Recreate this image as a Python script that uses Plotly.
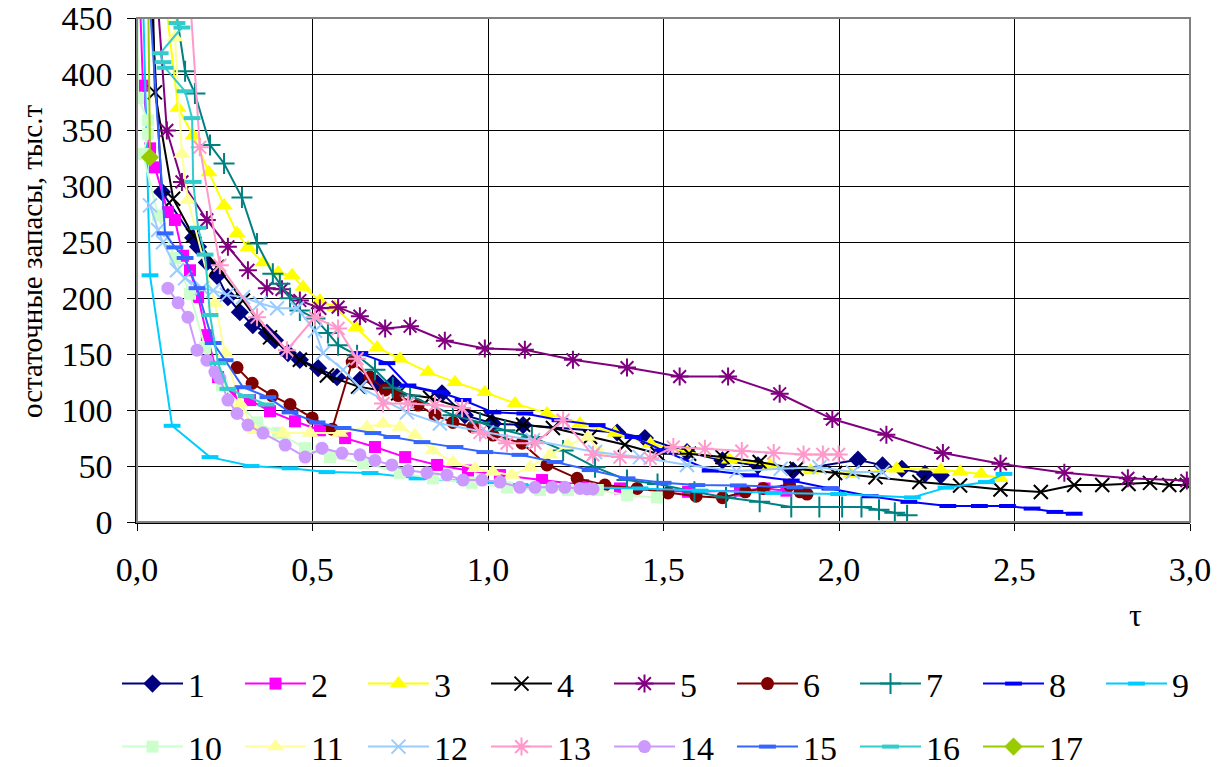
import plotly.graph_objects as go

# ---------------- data ----------------
s1_x = [0.040, 0.071, 0.160, 0.174, 0.199, 0.228, 0.259, 0.293, 0.330, 0.370, 0.393, 0.430, 0.464, 0.516, 0.570, 0.635, 0.684, 0.729, 0.869, 0.934, 1.014, 1.100, 1.368, 1.447, 1.567, 1.668, 1.769, 1.869, 2.054, 2.124, 2.179, 2.245, 2.290]
s1_y = [470, 295, 254, 246, 232, 220, 201, 187.5, 176, 169, 162.5, 151, 145, 137.5, 129.5, 127, 124, 124, 115, 95.5, 88, 86.6, 80, 75, 62.5, 55, 50.6, 46, 55.7, 50.6, 47.6, 43, 41.7]

s2_x = [0.008, 0.017, 0.037, 0.051, 0.088, 0.108, 0.131, 0.151, 0.174, 0.199, 0.231, 0.274, 0.322, 0.379, 0.450, 0.521, 0.593, 0.678, 0.764, 0.855, 0.943, 1.034, 1.154, 1.271, 1.376, 1.570, 1.718, 1.788, 1.850]
s2_y = [470, 390, 334, 317, 277, 270, 238, 225, 201, 167, 129.5, 115, 109, 99, 90, 82, 75, 67, 58, 51, 46, 42, 37.5, 33, 30, 27, 28, 30, 28]

s3_x = [0.080, 0.117, 0.160, 0.205, 0.248, 0.285, 0.316, 0.359, 0.402, 0.442, 0.473, 0.521, 0.564, 0.624, 0.684, 0.749, 0.829, 0.906, 0.991, 1.077, 1.168, 1.262, 1.362, 1.463, 1.568, 1.688, 1.804, 1.919, 2.034, 2.164, 2.290, 2.345, 2.405, 2.460]
s3_y = [470, 370, 345.5, 312.5, 283, 258, 245.5, 232, 223, 220.5, 210, 198, 192, 174, 156, 146, 134, 125, 116, 106, 97, 88, 79.5, 70, 62.5, 55.7, 50.6, 46, 43, 47.6, 46.7, 45, 43, 39]

s4_x = [0.045, 0.051, 0.103, 0.160, 0.228, 0.302, 0.379, 0.464, 0.541, 0.630, 0.744, 0.835, 1.006, 1.100, 1.185, 1.291, 1.390, 1.483, 1.573, 1.668, 1.774, 1.879, 1.989, 2.104, 2.229, 2.345, 2.460, 2.575, 2.670, 2.750, 2.825, 2.886, 2.941, 2.991]
s4_y = [470, 384, 289, 256, 228, 198, 165, 145, 131, 121, 115, 111, 94, 87, 84, 76, 69, 61, 61, 58, 53.6, 47.6, 43.75, 40, 35.7, 32.7, 29, 26.8, 33, 33, 34, 35, 33, 33]

s5_x = [0.058, 0.085, 0.128, 0.199, 0.259, 0.316, 0.370, 0.413, 0.464, 0.521, 0.573, 0.635, 0.707, 0.778, 0.877, 0.991, 1.105, 1.242, 1.396, 1.546, 1.684, 1.831, 1.981, 2.135, 2.296, 2.460, 2.642, 2.823, 2.991]
s5_y = [470, 350, 304, 270, 246, 225, 209, 208, 198, 191, 192, 184, 173, 175, 162, 155, 154, 145, 138, 130, 130, 114.6, 92, 78, 61.6, 52, 44, 39, 37]

s6_x = [0.285, 0.328, 0.385, 0.436, 0.499, 0.556, 0.613, 0.664, 0.707, 0.744, 0.801, 0.849, 0.900, 0.957, 1.014, 1.097, 1.168, 1.254, 1.333, 1.425, 1.513, 1.593, 1.668, 1.733, 1.784, 1.859, 1.889, 1.909]
s6_y = [138, 124, 113, 105, 93, 83, 143, 129.5, 118, 113, 104.5, 95.5, 89, 85, 77.7, 70.5, 51, 39, 33, 30, 26, 23, 21.7, 27, 30, 33, 27, 25]

s7_x = [0.105, 0.137, 0.165, 0.208, 0.248, 0.299, 0.342, 0.387, 0.407, 0.436, 0.464, 0.507, 0.544, 0.573, 0.627, 0.678, 0.729, 0.778, 0.900, 0.977, 1.048, 1.125, 1.214, 1.305, 1.396, 1.483, 1.588, 1.678, 1.774, 1.864, 1.944, 2.009, 2.064, 2.114, 2.159, 2.194]
s7_y = [470, 403, 383, 337, 320.5, 290, 249, 222, 213, 200, 189, 182, 169, 158, 149, 136, 120, 113, 95.5, 89, 82, 76, 64, 49, 37.5, 34, 27, 22, 18, 13.4, 13.4, 13.4, 13.4, 11, 8.3, 6]

s8_x = [0.635, 0.712, 0.772, 0.863, 0.929, 1.014, 1.105, 1.205, 1.311, 1.413, 1.498, 1.633, 1.748, 1.864, 1.974, 2.089, 2.199, 2.310, 2.400, 2.480, 2.550, 2.615, 2.670]
s8_y = [151, 142, 122, 116, 109, 98, 97, 91, 86.6, 76, 64, 46, 41.7, 37, 30, 23, 18, 14.3, 14.3, 14.3, 12, 9, 7.4]

s9_x = [0.017, 0.037, 0.100, 0.208, 0.325, 0.436, 0.541, 0.664, 0.798, 0.934, 1.091, 1.262, 1.433, 1.604, 1.814, 1.999, 2.209, 2.305, 2.420, 2.470]
s9_y = [470, 220.5, 86, 58, 50, 48, 44.6, 43.75, 39, 36.6, 33, 31, 30, 28, 26, 25, 22, 30.7, 35.7, 43]

s10_x = [0.002, 0.003, 0.031, 0.031, 0.017, 0.060, 0.108, 0.151, 0.194, 0.242, 0.342, 0.402, 0.479, 0.550, 0.644, 0.749, 0.843, 0.954, 1.054, 1.148, 1.228, 1.313, 1.396, 1.481]
s10_y = [470, 379, 359, 347, 329, 274, 236, 204, 156, 122, 89, 79.5, 66, 58, 52.7, 44, 39, 35, 31, 28.6, 28.6, 28.6, 24, 22]

s11_x = [0.105, 0.108, 0.128, 0.145, 0.222, 0.251, 0.293, 0.336, 0.416, 0.493, 0.578, 0.655, 0.701, 0.749, 0.792, 0.843, 0.900, 0.963, 1.014, 1.068, 1.120, 1.177, 1.228, 1.285, 1.319]
s11_y = [470, 433, 329, 287.5, 195.5, 151, 106, 82, 79.5, 79.5, 79.5, 85, 88, 85, 77.7, 64, 53.6, 48, 44.6, 42, 49, 60, 68.75, 76, 62.5]

s12_x = [0.037, 0.060, 0.074, 0.114, 0.137, 0.185, 0.217, 0.256, 0.302, 0.350, 0.399, 0.456, 0.507, 0.530, 0.587, 0.635, 0.769, 0.863, 0.997, 1.128, 1.305, 1.433, 1.567, 1.708, 1.834, 1.944, 2.039, 2.124]
s12_y = [283, 261, 250, 225, 218, 209, 207, 203, 201, 195.5, 191, 191, 171, 151, 136, 120.5, 98, 88, 80, 73, 62.5, 58, 51, 45.5, 47.6, 49, 44.6, 44.6]

s13_x = [0.151, 0.179, 0.236, 0.342, 0.427, 0.507, 0.573, 0.627, 0.701, 0.772, 0.849, 0.926, 0.977, 1.054, 1.134, 1.214, 1.299, 1.376, 1.462, 1.528, 1.618, 1.723, 1.814, 1.899, 1.954, 1.999]
s13_y = [470, 335, 229.5, 183, 153.6, 183, 173, 146, 106, 106, 104.5, 102, 80, 70.5, 70.5, 91, 60, 58, 57, 67, 65.5, 63.4, 61.6, 60.4, 60.4, 60.4]

s14_x = [0.088, 0.117, 0.145, 0.171, 0.199, 0.222, 0.236, 0.259, 0.285, 0.316, 0.359, 0.422, 0.479, 0.527, 0.584, 0.635, 0.678, 0.726, 0.772, 0.826, 0.883, 0.929, 0.983, 1.034, 1.091, 1.134, 1.182, 1.219, 1.262, 1.282, 1.299]
s14_y = [209, 196, 183, 153.6, 144.6, 134, 128.6, 109, 97, 86.6, 79.5, 68.75, 58, 66, 61.6, 60, 55, 51, 46, 44, 42, 37.5, 37.5, 35.7, 31, 31, 31, 31, 30, 29.5, 29.5]

s15_x = [0.035, 0.080, 0.108, 0.137, 0.171, 0.217, 0.251, 0.302, 0.373, 0.436, 0.513, 0.587, 0.672, 0.726, 0.812, 0.906, 0.991, 1.091, 1.191, 1.291, 1.396, 1.499, 1.595, 1.713, 1.874, 1.979]
s15_y = [470, 258, 245.5, 236, 209, 160, 144.6, 120.5, 111.6, 98, 89, 84, 79.5, 76, 71.4, 67, 62.5, 60, 53.6, 46.4, 39, 35, 33, 32.7, 31, 30]

s16_x = [0.110, 0.114, 0.128, 0.066, 0.074, 0.080, 0.137, 0.157, 0.160, 0.174, 0.194, 0.208, 0.231, 0.259, 0.311, 0.368]
s16_y = [470, 446, 442, 419, 411, 406, 385, 361, 304, 263, 239, 185, 142, 119, 112.5, 105]

s17_x = [0.032, 0.037]
s17_y = [470, 326]

x_ticks = [0.0, 0.5, 1.0, 1.5, 2.0, 2.5, 3.0]
y_ticks = [0, 50, 100, 150, 200, 250, 300, 350, 400, 450]

series = [
    ("1", s1_x, s1_y, "#000080", "diamond", 14),
    ("2", s2_x, s2_y, "#FF00FF", "square", 12),
    ("3", s3_x, s3_y, "#FFFF00", "triangle-up", 15),
    ("4", s4_x, s4_y, "#000000", "x-thin-open", 14),
    ("5", s5_x, s5_y, "#800080", "asterisk-open", 15),
    ("6", s6_x, s6_y, "#800000", "circle", 13),
    ("7", s7_x, s7_y, "#008080", "cross-thin-open", 15),
    ("8", s8_x, s8_y, "#0000FF", "line-ew-open", 12),
    ("9", s9_x, s9_y, "#00CCFF", "line-ew-open", 12),
    ("10", s10_x, s10_y, "#CCFFCC", "square", 12),
    ("11", s11_x, s11_y, "#FFFF99", "triangle-up", 15),
    ("12", s12_x, s12_y, "#99CCFF", "x-thin-open", 14),
    ("13", s13_x, s13_y, "#FF99CC", "asterisk-open", 15),
    ("14", s14_x, s14_y, "#CC99FF", "circle", 13),
    ("15", s15_x, s15_y, "#3366FF", "line-ew-open", 12),
    ("16", s16_x, s16_y, "#33CCCC", "line-ew-open", 12),
    ("17", s17_x, s17_y, "#99CC00", "diamond", 14),
]

FONT = "Liberation Serif"

fig = go.Figure()
for i, (name, xs, ys, col, sym, sz) in enumerate(series):
    open_sym = sym.endswith("-open")
    lw = 4 if sym == "line-ew-open" else (2 if open_sym else 0)
    fig.add_trace(go.Scatter(
        x=xs, y=ys, name=name, mode="lines+markers",
        line=dict(color=col, width=2),
        marker=dict(symbol=sym, size=sz, color=col,
                    line=dict(color=col, width=lw)),
        legend="legend" if i < 9 else "legend2",
    ))

W, H = 1231, 767
L, R, T, B = 137, 1190, 18, 522
pw, ph = R - L, B - T

def px_x(p):
    return (p - L) / pw

def px_y(p):
    return (B - p) / ph

ITEMW = 61
ENTRYW = 47

legend_common = dict(
    orientation="h", xanchor="left", yanchor="middle",
    entrywidth=ENTRYW, entrywidthmode="pixels", itemwidth=ITEMW,
    font=dict(family=FONT, size=34, color="black"),
    bgcolor="rgba(0,0,0,0)", borderwidth=0,
    itemclick=False, itemdoubleclick=False,
)

fig.update_layout(
    width=W, height=H,
    margin=dict(l=L, r=W - R, t=T, b=H - B, autoexpand=False),
    paper_bgcolor="white", plot_bgcolor="white",
    separators=", ",
    font=dict(family=FONT, size=34, color="black"),
    showlegend=True,
    xaxis=dict(range=[0, 3], tickvals=x_ticks, tickformat=".1f",
               showgrid=True, gridcolor="black", gridwidth=1,
               showline=True, linecolor="black", linewidth=1.5,
               ticks="outside", ticklen=7, tickcolor="black",
               ticklabelstandoff=9, zeroline=False, automargin=False,
               tickfont=dict(family=FONT, size=34, color="black")),
    yaxis=dict(range=[0, 450.5], tickvals=y_ticks,
               showgrid=True, gridcolor="black", gridwidth=1,
               showline=True, linecolor="black", linewidth=1.5,
               ticks="outside", ticklen=8, tickcolor="black",
               ticklabelstandoff=8, zeroline=False, automargin=False,
               ticklabeloverflow="allow",
               tickfont=dict(family=FONT, size=34, color="black")),
    legend=dict(x=px_x(117), y=px_y(684), **legend_common),
    legend2=dict(x=px_x(117), y=px_y(747), **legend_common),
    annotations=[
        dict(text="τ", xref="paper", yref="paper", x=px_x(1135), y=px_y(615),
             xanchor="center", yanchor="middle", showarrow=False,
             font=dict(family=FONT, size=32, color="black")),
        dict(text="остаточные запасы, тыс.т", xref="paper", yref="paper",
             x=px_x(32), y=px_y(262), xanchor="center", yanchor="middle",
             textangle=-90, showarrow=False,
             font=dict(family=FONT, size=29, color="black")),
    ],
    shapes=[
        dict(type="rect", xref="paper", yref="paper", x0=0, x1=1, y0=0, y1=1,
             line=dict(color="#808080", width=2), layer="above"),
    ],
)

fig.write_html("out.html", config={"displayModeBar": False},
               post_script="document.body.style.margin='0';")
